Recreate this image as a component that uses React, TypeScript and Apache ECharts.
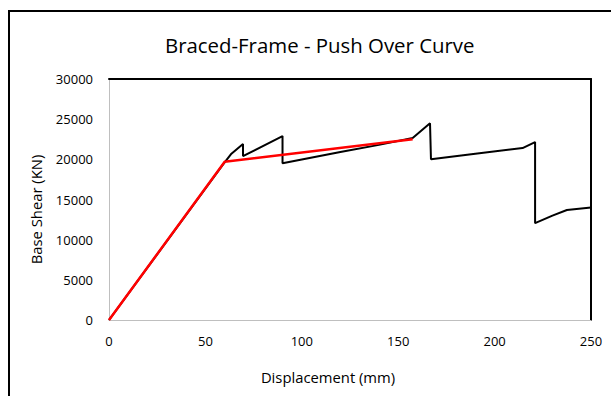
import React, { useEffect, useRef } from "react";
import * as echarts from "echarts";

const titleText = "Braced-Frame - Push Over Curve";
const xAxisName = "Displacement (mm)";
const yAxisName = "Base Shear (KN)";

const dispBlack = [0, 59, 63.5, 69.5, 69.5, 90, 90, 120, 140, 157.5, 166.5, 167, 190, 214.5, 221, 221, 230, 237.5, 250];
const shearBlack = [0, 19300, 20700, 21900, 20400, 22900, 19500, 20900, 21800, 22650, 24500, 20000, 20700, 21400, 22150, 12050, 13000, 13700, 14000];

const dispRed = [0, 60, 157.5];
const shearRed = [0, 19700, 22500];

const FONT = "Open Sans";

export default function App() {
  const ref = useRef<HTMLDivElement>(null);
  useEffect(() => {
    if (!ref.current) return;
    const chart = echarts.init(ref.current, null, { renderer: "svg" });
    const black = dispBlack.map((d, i) => [d, shearBlack[i]]);
    const red = dispRed.map((d, i) => [d, shearRed[i]]);
    chart.setOption({
      animation: false,
      backgroundColor: "#ffffff",
      title: {
        text: titleText,
        left: 160,
        top: 30,
        textStyle: { fontFamily: FONT, fontSize: 20.4, fontWeight: "normal", color: "#000" },
      },
      graphic: [
        {
          type: "rect",
          shape: { x: 9, y: 11, width: 700, height: 500 },
          style: { fill: "none", stroke: "#000", lineWidth: 2 },
          silent: true,
        },
      ],
      grid: { left: 109, top: 79, right: 20, bottom: 76, containLabel: false },
      xAxis: [
        {
          type: "value",
          min: 0,
          max: 250,
          interval: 50,
          name: xAxisName,
          nameLocation: "middle",
          nameGap: 49,
          nameTextStyle: { fontFamily: FONT, fontSize: 14.8, color: "#000", padding: [0, 44, 0, 0] },
          axisLine: { show: true, onZero: false, lineStyle: { color: "#bfbfbf", width: 1 } },
          axisTick: { show: false },
          splitLine: { show: false },
          axisLabel: { margin: 14, fontFamily: FONT, fontSize: 13, color: "#000", formatter: (v: number) => String(v) },
        },
        {
          type: "value",
          position: "top",
          min: 0,
          max: 250,
          axisLine: { show: true, onZero: false, lineStyle: { color: "#000", width: 2 } },
          axisTick: { show: false },
          axisLabel: { show: false },
          splitLine: { show: false },
        },
      ],
      yAxis: [
        {
          type: "value",
          min: 0,
          max: 30000,
          interval: 5000,
          name: yAxisName,
          nameLocation: "middle",
          nameGap: 66,
          nameTextStyle: { fontFamily: FONT, fontSize: 14.8, color: "#000", padding: [0, 20, 0, 0] },
          axisLine: { show: true, onZero: false, lineStyle: { color: "#bfbfbf", width: 1 } },
          axisTick: { show: false },
          splitLine: { show: false },
          axisLabel: { margin: 16, fontFamily: FONT, fontSize: 13, color: "#000", formatter: (v: number) => String(v) },
        },
        {
          type: "value",
          position: "right",
          min: 0,
          max: 30000,
          axisLine: { show: true, onZero: false, lineStyle: { color: "#000", width: 2 } },
          axisTick: { show: false },
          axisLabel: { show: false },
          splitLine: { show: false },
        },
      ],
      series: [
        {
          type: "line",
          data: black,
          showSymbol: false,
          lineStyle: { color: "#000", width: 2 },
          z: 2,
        },
        {
          type: "line",
          data: red,
          showSymbol: false,
          lineStyle: { color: "#ff0000", width: 2.5 },
          z: 3,
        },
      ],
    });
    return () => chart.dispose();
  }, []);
  return (
    <div
      ref={ref}
      style={{ position: "absolute", left: 0, top: 0, width: 611, height: 396 }}
    />
  );
}
